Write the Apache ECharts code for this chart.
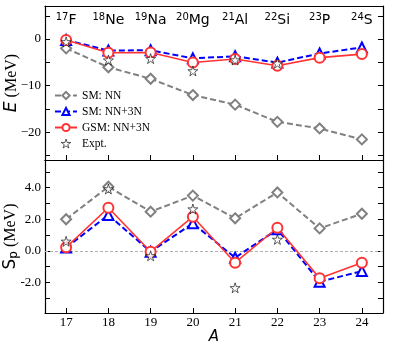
<!DOCTYPE html>
<html>
<head>
<meta charset="utf-8">
<script src="https://cdn.jsdelivr.net/npm/echarts@6/dist/echarts.min.js"></script>
<style>
  html, body { margin: 0; padding: 0; background: #fff; }
  #chart { width: 399px; height: 342px; }
</style>
</head>
<body>
<div id="chart"></div>
<script>
// mass numbers and nuclei
var massNumbers = ['17', '18', '19', '20', '21', '22', '23', '24'];
var elements = ['F', 'Ne', 'Na', 'Mg', 'Al', 'Si', 'P', 'S'];

// energies E (MeV)
var eSmNN = [-2.0, -6.06, -8.54, -12.04, -14.1, -17.8, -19.22, -21.57];
var eSm3N = [-0.2, -2.47, -2.41, -4.15, -3.71, -5.07, -3.10, -1.81];
var eGsm3N = [-0.22, -2.95, -2.89, -5.05, -4.29, -5.75, -4.0, -3.24];
var eExpt = [-0.60, -4.52, -4.20, -6.85, -4.50, -5.22, null, null];

// one-proton separation energies Sp (MeV)
var spSmNN = [2.0, 4.06, 2.48, 3.5, 2.06, 3.7, 1.42, 2.35];
var spSm3N = [0.2, 2.27, -0.06, 1.74, -0.44, 1.36, -1.97, -1.29];
var spGsm3N = [0.22, 2.73, -0.06, 2.16, -0.76, 1.46, -1.75, -0.76];
var spExpt = [0.60, 3.92, -0.32, 2.65, -2.35, 0.72, null, null];

// tick marks / labels
var eTicks = [-25, -20, -15, -10, -5, 0, 5];
var eLabels = [-20, -10, 0];
var spTicks = [-3, -2, -1, 0, 1, 2, 3, 4, 5];
var spLabels = [-2, 0, 2, 4];

var serif = 'Liberation Serif';
var sans = 'DejaVu Sans';
var star = 'path://M50,0 L61,35 L98,35 L68,57 L79,91 L50,70 L21,91 L32,57 L2,35 L39,35 Z';

var chart = echarts.init(document.getElementById('chart'));

function xAx(grid, pos, opts) {
  var a = {
    type: 'category',
    gridIndex: grid,
    position: pos,
    data: massNumbers,
    boundaryGap: true,
    axisLine: { onZero: false, lineStyle: { color: '#000', width: 1.2 } },
    axisTick: { show: false },
    axisLabel: { show: false },
    splitLine: { show: false }
  };
  return Object.assign(a, opts || {});
}

function yAx(grid, pos, min, max, ticks, labels, fmt, opts) {
  var a = {
    type: 'value',
    gridIndex: grid,
    position: pos,
    min: min,
    max: max,
    axisLine: { show: true, onZero: false, lineStyle: { color: '#000', width: 1.2 } },
    axisTick: { show: true, inside: true, length: 5, customValues: ticks, lineStyle: { color: '#000' } },
    axisLabel: pos === 'left' ? {
      show: true, customValues: labels, formatter: fmt,
      fontFamily: serif, fontSize: 13, color: '#000', margin: 4
    } : { show: false },
    splitLine: { show: false }
  };
  return Object.assign(a, opts || {});
}

function lineSeries(name, data, xi, yi, color, symbol, dashed, z) {
  return {
    name: name,
    type: 'line',
    xAxisIndex: xi,
    yAxisIndex: yi,
    data: data,
    symbol: symbol,
    symbolSize: 10,
    z: z,
    lineStyle: { color: color, width: dashed ? 2 : 1.6, type: dashed ? [6, 3] : 'solid' },
    itemStyle: { color: color, borderColor: color, borderWidth: 1.5 },
    animation: false
  };
}

function starSeries(data, xi, yi) {
  return {
    name: 'Expt.',
    type: 'scatter',
    xAxisIndex: xi,
    yAxisIndex: yi,
    data: data,
    symbol: star,
    symbolSize: 10,
    z: 10,
    itemStyle: { color: '#fff', borderColor: '#000', borderWidth: 0.8 },
    animation: false
  };
}

chart.setOption({
  backgroundColor: '#fff',
  grid: [
    { left: 45, top: 6, width: 338, height: 154, containLabel: false, outerBoundsMode: 'none' },
    { left: 45, top: 160, width: 338, height: 153, containLabel: false, outerBoundsMode: 'none' }
  ],
  legend: {
    data: [
      { name: 'SM: NN' },
      { name: 'SM: NN+3N' },
      { name: 'GSM: NN+3N' },
      { name: 'Expt.', icon: star, itemStyle: { color: '#fff', borderColor: '#000', borderWidth: 0.8 } }
    ],
    orient: 'vertical',
    left: 54,
    top: 89,
    padding: 0,
    itemWidth: 22,
    itemHeight: 9,
    itemGap: 3,
    textStyle: { fontFamily: serif, fontSize: 11.5, color: '#000', lineHeight: 13 }
  },
  xAxis: [
    xAx(0, 'bottom', { axisTick: { show: true, inside: true, length: 5, alignWithLabel: true, lineStyle: { color: '#000' } } }),
    xAx(0, 'top', {
      axisLabel: {
        show: true, inside: true, margin: 6, interval: 0,
        formatter: function (v, i) { return '{sup|' + v + '}{el|' + elements[i] + '}'; },
        rich: {
          sup: { fontFamily: sans, fontSize: 10, color: '#000', verticalAlign: 'top', padding: [0, 0, 6, 0] },
          el: { fontFamily: sans, fontSize: 14, color: '#000' }
        }
      }
    }),
    xAx(1, 'bottom', {
      axisTick: { show: true, inside: true, length: 5, alignWithLabel: true, lineStyle: { color: '#000' } },
      axisLabel: { show: true, interval: 0, fontFamily: serif, fontSize: 13, color: '#000', margin: 3 },
      name: 'A',
      nameLocation: 'middle',
      nameGap: 17,
      nameMoveOverlap: false,
      nameTextStyle: { fontFamily: sans, fontStyle: 'italic', fontSize: 15, color: '#000' }
    }),
    xAx(1, 'top')
  ],
  yAxis: [
    yAx(0, 'left', -26, 7.1, eTicks, eLabels, function (v) { return v < 0 ? '\u2212' + (-v) : String(v); }, {
      name: '{i|E} (MeV)',
      nameLocation: 'middle',
      nameRotate: 90,
      nameGap: 25,
      nameMoveOverlap: false,
      nameTextStyle: {
        fontFamily: serif, fontSize: 16, color: '#000',
        rich: { i: { fontFamily: sans, fontStyle: 'italic', fontSize: 17, color: '#000' } }
      }
    }),
    yAx(0, 'right', -26, 7.1, eTicks, eLabels),
    yAx(1, 'left', -3.95, 5.76, spTicks, spLabels, function (v) { return v.toFixed(1); }, {
      name: '{s|S}{p|p} (MeV)',
      nameLocation: 'middle',
      nameRotate: 90,
      nameGap: 25,
      nameMoveOverlap: false,
      nameTextStyle: {
        fontFamily: serif, fontSize: 16, color: '#000',
        rich: {
          s: { fontFamily: sans, fontSize: 17, color: '#000' },
          p: { fontFamily: sans, fontSize: 12, color: '#000', verticalAlign: 'bottom', padding: [6, 0, 0, 0] }
        }
      }
    }),
    yAx(1, 'right', -3.95, 5.76, spTicks, spLabels)
  ],
  series: [
    lineSeries('SM: NN', eSmNN, 0, 0, '#808080', 'emptyDiamond', true, 2),
    lineSeries('SM: NN+3N', eSm3N, 0, 0, '#0000ff', 'emptyTriangle', true, 3),
    lineSeries('GSM: NN+3N', eGsm3N, 0, 0, '#ff3333', 'emptyCircle', false, 4),
    starSeries(eExpt, 0, 0),
    Object.assign(lineSeries('SM: NN', spSmNN, 2, 2, '#808080', 'emptyDiamond', true, 2), {
      markLine: {
        silent: true,
        symbol: 'none',
        z: 1,
        label: { show: false },
        lineStyle: { color: '#b0b0b0', type: [3, 2], width: 1, opacity: 1 },
        emphasis: { disabled: true },
        data: [{ yAxis: 0 }]
      }
    }),
    lineSeries('SM: NN+3N', spSm3N, 2, 2, '#0000ff', 'emptyTriangle', true, 3),
    lineSeries('GSM: NN+3N', spGsm3N, 2, 2, '#ff3333', 'emptyCircle', false, 4),
    starSeries(spExpt, 2, 2)
  ]
});
</script>
</body>
</html>
